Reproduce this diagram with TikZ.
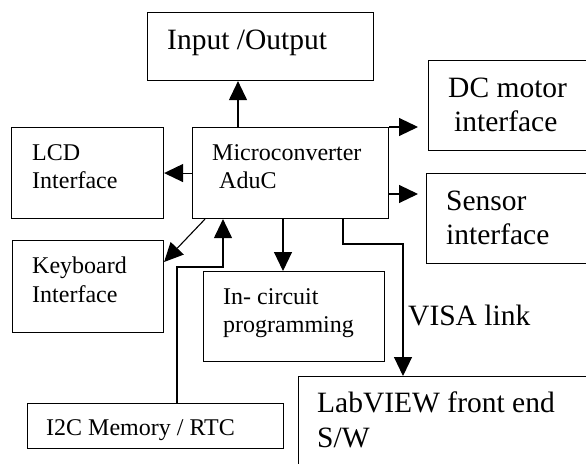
\documentclass[tikz,border=0pt]{standalone}
\usepackage{fontspec}
\setmainfont{Liberation Serif}
\usetikzlibrary{arrows.meta,calc}
\begin{document}
\begin{tikzpicture}[x=1pt,y=-1pt,
  box/.style={draw, line width=1.1pt, rectangle, inner sep=0pt, anchor=north west},
  big/.style={font=\fontsize{29.5}{34}\selectfont, anchor=base west, inner sep=0pt},
  small/.style={font=\fontsize{24}{28}\selectfont, anchor=base west, inner sep=0pt},
  arr/.style={line width=1.1pt, -{Triangle[length=19pt,width=18pt]}}]
\useasboundingbox (0,0) rectangle (586,463);
\clip (0,0) rectangle (586,463);
\fill[white] (0,0) rectangle (586,463);
% boxes
\node[box, minimum width=226pt, minimum height=68pt] (io) at (147,12) {};
\node[box, minimum width=196pt, minimum height=91pt] (micro) at (192,127) {};
\node[box, minimum width=152pt, minimum height=91pt] (lcd) at (11,127) {};
\node[box, minimum width=151pt, minimum height=92pt] (kbd) at (12,240) {};
\node[box, minimum width=170pt, minimum height=90pt] (dc) at (428,60) {};
\node[box, minimum width=170pt, minimum height=90pt] (sensor) at (426,173) {};
\node[box, minimum width=181pt, minimum height=90pt] (incirc) at (203,271) {};
\node[box, minimum width=256pt, minimum height=45pt] (i2c) at (27,403) {};
\node[box, minimum width=300pt, minimum height=100pt] (lab) at (298,376) {};
% texts
\node[big] (ioT) at (167,49) {Input /Output};
\node[small] (mcT1) at (212,160) {Microconverter};
\node[small] (mcT2) at (219,188) {AduC};
\node[small] (lcdT1) at (32,160) {LCD};
\node[small] (lcdT2) at (32,188) {Interface};
\node[small] (kbdT1) at (32,273) {Keyboard};
\node[small] (kbdT2) at (32,302) {Interface};
\node[big] (dcT1) at (448,97) {DC motor};
\node[big] (dcT2) at (454,131) {interface};
\node[big] (seT1) at (446,210) {Sensor};
\node[big] (seT2) at (446,244) {interface};
\node[small] (icT1) at (223,304) {In- circuit};
\node[small] (icT2) at (223,332) {programming};
\node[small] (i2cT) at (46,435) {I2C Memory / RTC};
\node[big] (labT1) at (317,412) {LabVIEW front end};
\node[big] (labT2) at (317,447) {S/W};
\node[big] (visa) at (408,325) {VISA link};
% helper coordinates
\coordinate (xio) at (238,0);
\coordinate (ys) at (0,194);
\coordinate (xin) at (283,0);
\coordinate (bendA) at (177,267);
\coordinate (bendB) at (223,267);
\coordinate (v1) at (343,244);
\coordinate (v2) at (403,244);
% connectors
\draw[arr] (micro.north -| xio) -- (io.south -| xio);
\draw[arr, shorten >=10pt] (micro.north east) -- (dc.west |- micro.north east);
\draw[arr] (micro.west) -- (lcd.east |- micro.west);
\draw[arr, shorten >=8pt] (micro.east |- ys) -- (sensor.west |- ys);
\draw[arr] ($(micro.south west)+(13,0)$) -- ($(kbd.north east)+(0,22)$);
\draw[arr] (i2c.north -| bendA) -- (bendA) -- (bendB) -- (micro.south -| bendB);
\draw[arr] (micro.south -| xin) -- (incirc.north -| xin);
\draw[arr] (micro.south -| v1) -- (v1) -- (v2) -- (lab.north -| v2);
\end{tikzpicture}
\end{document}
